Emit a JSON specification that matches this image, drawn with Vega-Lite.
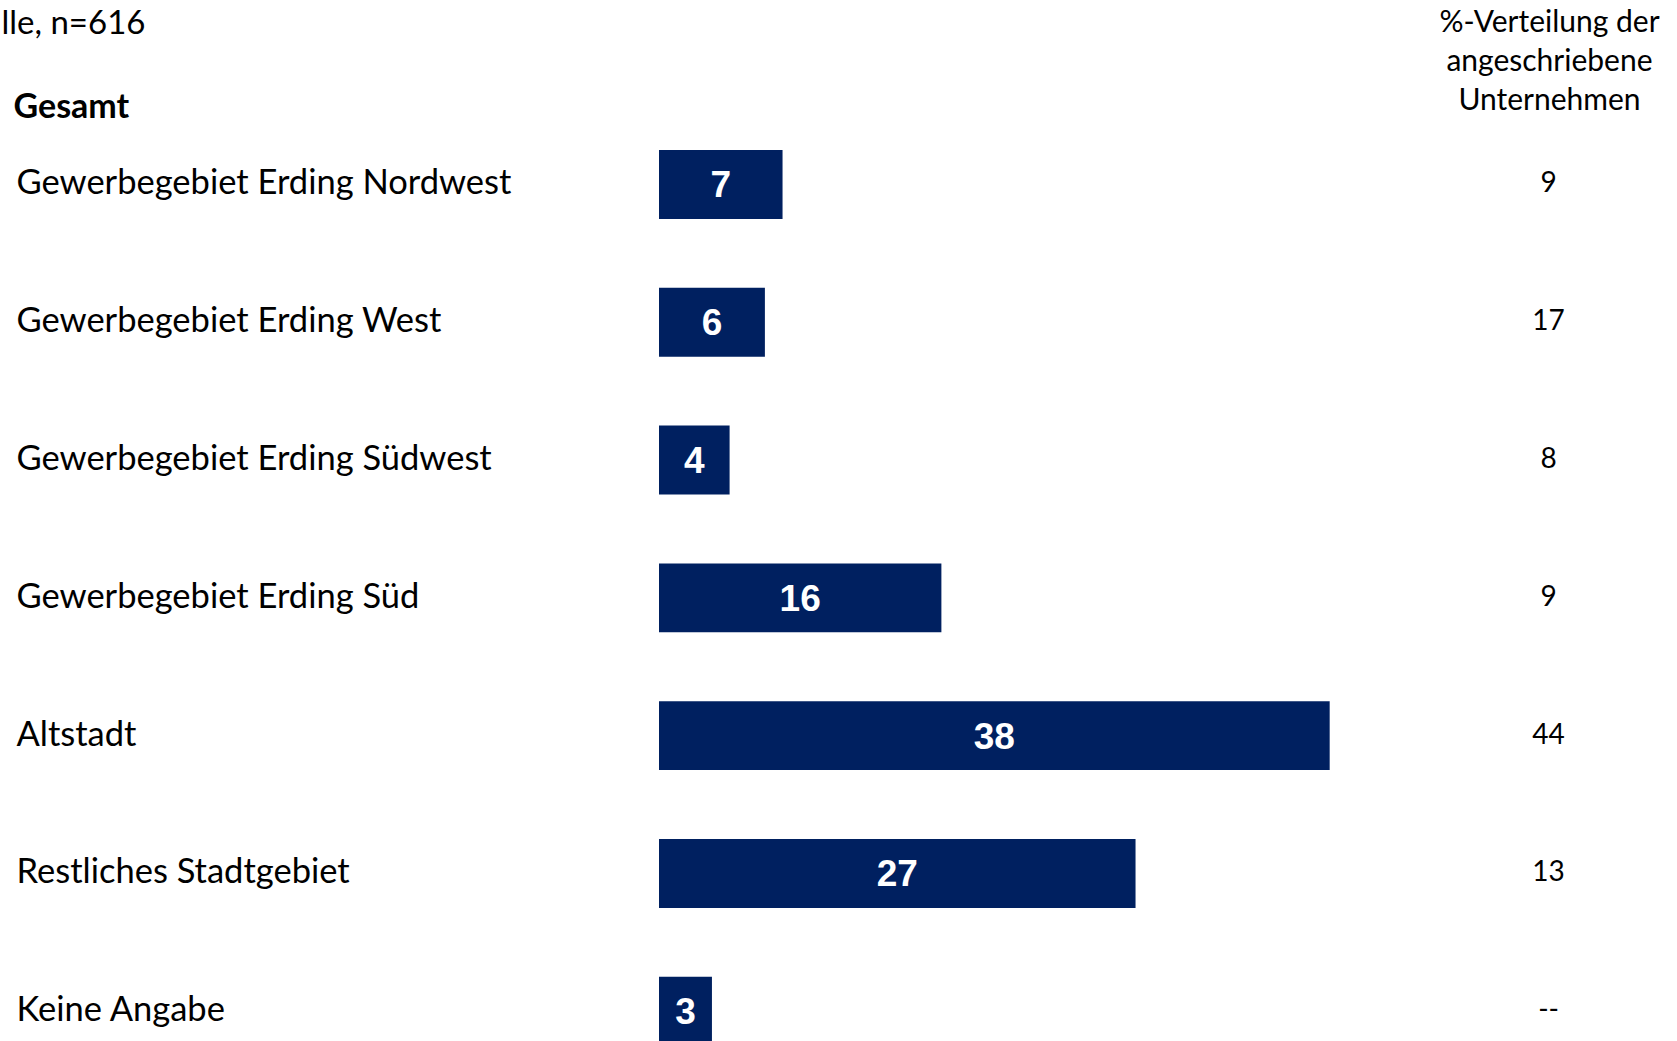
{
  "$schema": "https://vega.github.io/schema/vega-lite/v6.json",
  "width": 1677,
  "height": 1041,
  "autosize": "none",
  "padding": 0,
  "background": "white",
  "config": {"view": {"stroke": null}},
  "data": {
    "values": [
      {"gebiet": "Gewerbegebiet Erding Nordwest", "anteil": 7, "verteilung": "9"},
      {"gebiet": "Gewerbegebiet Erding West", "anteil": 6, "verteilung": "17"},
      {"gebiet": "Gewerbegebiet Erding Südwest", "anteil": 4, "verteilung": "8"},
      {"gebiet": "Gewerbegebiet Erding Süd", "anteil": 16, "verteilung": "9"},
      {"gebiet": "Altstadt", "anteil": 38, "verteilung": "44"},
      {"gebiet": "Restliches Stadtgebiet", "anteil": 27, "verteilung": "13"},
      {"gebiet": "Keine Angabe", "anteil": 3, "verteilung": "--"}
    ]
  },
  "resolve": {"scale": {"x": "independent"}, "axis": {"y": "independent", "x": "independent"}},
  "layer": [
    {
      "mark": {"type": "bar", "color": "#002060"},
      "encoding": {
        "y": {
          "field": "gebiet",
          "type": "nominal",
          "sort": null,
          "scale": {"range": [150, 1045.7], "paddingInner": 0.5, "paddingOuter": 0},
          "axis": {
            "orient": "left",
            "domain": false,
            "ticks": false,
            "tickSize": 0,
            "grid": false,
            "labelAlign": "left",
            "labelBaseline": "middle",
            "labelPadding": -16,
            "labelOffset": 0,
            "labelLimit": 800,
            "labelFont": "Lato",
            "labelFontSize": 34.5,
            "labelColor": "#000000",
            "title": "Gesamt",
            "titleAngle": 0,
            "titleX": 13,
            "titleY": 117,
            "titleAlign": "left",
            "titleBaseline": "alphabetic",
            "titleFont": "Lato",
            "titleFontSize": 34,
            "titleFontWeight": "bold",
            "titleColor": "#000000"
          }
        },
        "x": {
          "field": "anteil",
          "type": "quantitative",
          "scale": {"domain": [0, 50.5], "range": [659, 1550.3], "nice": false, "zero": true},
          "axis": {
            "orient": "top",
            "domain": false,
            "ticks": false,
            "labels": false,
            "grid": false,
            "title": "lle, n=616",
            "titleX": 1,
            "titleY": 33,
            "titleAlign": "left",
            "titleAnchor": "start",
            "titleBaseline": "alphabetic",
            "titleFont": "Lato",
            "titleFontSize": 33,
            "titleFontWeight": "normal",
            "titleColor": "#000000"
          }
        }
      }
    },
    {
      "mark": {"type": "text", "color": "white", "font": "Liberation Sans", "fontSize": 37, "fontWeight": "bold", "align": "center", "baseline": "middle", "dy": 2},
      "encoding": {
        "y": {"field": "gebiet", "type": "nominal", "sort": null, "axis": null},
        "x": {
          "field": "anteil",
          "type": "quantitative",
          "scale": {"domain": [0, 101], "range": [659, 1550.3], "nice": false, "zero": true},
          "axis": null
        },
        "text": {"field": "anteil", "type": "quantitative"}
      }
    },
    {
      "mark": {"type": "text", "color": "black", "font": "Lato", "fontSize": 28, "align": "center", "baseline": "middle"},
      "encoding": {
        "y": {
          "field": "gebiet",
          "type": "nominal",
          "sort": null,
          "axis": {
            "orient": "right",
            "domain": false,
            "ticks": false,
            "labels": false,
            "grid": false,
            "title": ["%-Verteilung der", "angeschriebene", "Unternehmen"],
            "titleAngle": 0,
            "titleX": -128,
            "titleY": 31,
            "titleAlign": "center",
            "titleBaseline": "alphabetic",
            "titleLineHeight": 39,
            "titleFont": "Lato",
            "titleFontSize": 30,
            "titleFontWeight": "normal",
            "titleColor": "#000000"
          }
        },
        "x": {
          "datum": 50.4,
          "type": "quantitative",
          "scale": {"domain": [0, 50.5], "range": [659, 1550.3], "nice": false, "zero": true},
          "axis": null
        },
        "text": {"field": "verteilung", "type": "nominal"}
      }
    }
  ]
}
